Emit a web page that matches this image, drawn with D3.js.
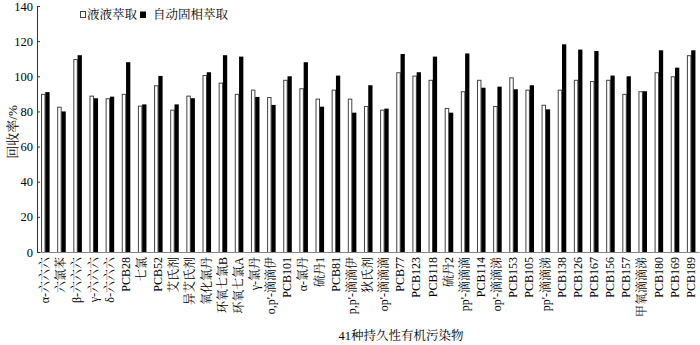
<!DOCTYPE html>
<html>
<head>
<meta charset="utf-8">
<script src="https://cdn.jsdelivr.net/npm/d3@7"></script>
<style>
  body { margin: 0; background: #fff; }
  svg text { font-family: "Liberation Serif", "Times New Roman", "Noto Serif CJK SC", "Noto Sans CJK SC", serif; fill: #000; }
</style>
</head>
<body>
<svg id="chart"></svg>
<script>
// 41 compounds
var categories = ["α-六六六", "六氯苯", "β-六六六", "γ-六六六", "δ-六六六", "PCB28", "七氯", "PCB52",
    "艾氏剂", "异艾氏剂", "氧化氯丹", "环氧七氯B", "环氧七氯A", "γ-氯丹", "o,p'-滴滴伊", "PCB101",
    "α-氯丹", "硫丹1", "PCB81", "p,p'-滴滴伊", "狄氏剂", "op'-滴滴滴", "PCB77", "PCB123", "PCB118",
    "硫丹2", "pp'-滴滴滴", "PCB114", "op'-滴滴涕", "PCB153", "PCB105", "pp'-滴滴涕", "PCB138",
    "PCB126", "PCB167", "PCB156", "PCB157", "甲氧滴滴涕", "PCB180", "PCB169", "PCB189"];

var seriesNames = ["液液萃取", "自动固相萃取"];

// recovery %, liquid-liquid extraction
var lleValues = [90, 82.7, 109.8, 89, 87.5, 90, 83.3, 94.9, 81, 89, 100.7, 96.4, 90, 92.4, 88.2, 98,
    93.2, 87.3, 92.4, 87.3, 83.1, 81, 102.3, 100.4, 98, 82, 91.5, 98, 83.1, 99.4, 92.4, 83.8, 92.4,
    98, 97.3, 98, 90, 91.5, 102.3, 100, 112];

// recovery %, automated SPE
var speValues = [91, 80, 112, 87.5, 88.4, 108, 84, 100.2, 84, 87.5, 102.3, 112, 111.2, 88.2, 83.7, 100,
    108, 82.7, 100.4, 79.3, 94.9, 81.6, 112.7, 102.3, 111.2, 79.3, 113, 93.5, 94.1, 92.6, 94.9, 81.2,
    118.2, 115.2, 114.4, 100.4, 100, 91.5, 114.8, 104.9, 114.8];

var yTicks = [0, 20, 40, 60, 80, 100, 120, 140];

var dimensions = {
    width: 700,
    height: 345,
    left: 37,
    right: 699,
    top: 6,
    bottom: 252
};

var data = categories.map(function(c, i) {
    return { name: c, values: [lleValues[i], speValues[i]] };
});

var svg = d3.select("#chart")
    .attr("width", dimensions.width)
    .attr("height", dimensions.height);

var xScale = d3.scaleBand()
    .domain(categories)
    .range([dimensions.left, dimensions.right]);

var xInner = d3.scaleBand()
    .domain(seriesNames)
    .range([xScale.bandwidth() * 0.25, xScale.bandwidth() * 0.78]);

var yScale = d3.scaleLinear()
    .domain([0, 140])
    .range([dimensions.bottom, dimensions.top]);

// bars
var groups = svg.append("g")
    .selectAll("g")
    .data(data)
    .enter()
    .append("g")
    .attr("transform", d => "translate(" + xScale(d.name) + ",0)");

groups.selectAll("rect")
    .data(d => d.values.map((v, i) => ({ key: seriesNames[i], value: v })))
    .enter()
    .append("rect")
    .attr("x", d => xInner(d.key) + (d.key === seriesNames[0] ? 0.5 : 0))
    .attr("y", d => yScale(d.value) + (d.key === seriesNames[0] ? 0.5 : 0))
    .attr("width", d => d.key === seriesNames[0] ? xInner.bandwidth() - 0.8 : xInner.bandwidth())
    .attr("height", d => dimensions.bottom - yScale(d.value))
    .attr("fill", d => d.key === seriesNames[0] ? "#fff" : "#000")
    .attr("stroke", d => d.key === seriesNames[0] ? "#444" : "none")
    .attr("stroke-width", 1);

// baseline
svg.append("g")
    .attr("transform", "translate(0," + dimensions.bottom + ")")
    .call(d3.axisBottom(xScale).tickSize(0).tickFormat(""))
    .call(g => g.select(".domain").attr("stroke", "#888"));

// x labels, rotated
svg.append("g")
    .selectAll("text")
    .data(categories)
    .enter()
    .append("text")
    .attr("transform", d => "translate(" + (xScale(d) + xScale.bandwidth() / 2 + 4) + "," + (dimensions.bottom + 5) + ") rotate(-90)")
    .attr("text-anchor", "end")
    .style("font-size", "12px")
    .text(d => d);

// y axis
svg.append("g")
    .attr("transform", "translate(" + dimensions.left + ",0)")
    .call(d3.axisLeft(yScale).tickValues(yTicks).tickSizeInner(-3).tickSizeOuter(0).tickPadding(4))
    .call(g => g.selectAll("text").style("font-size", "12.5px").style("font-family", "Liberation Serif, serif"))
    .call(g => g.select(".domain").attr("stroke", "#333"))
    .call(g => g.selectAll(".tick line").attr("stroke", "#333"));

// axis titles
svg.append("text")
    .attr("transform", "translate(17,132) rotate(-90)")
    .attr("text-anchor", "middle")
    .style("font-size", "13px")
    .text("回收率/%");

svg.append("text")
    .attr("x", 401)
    .attr("y", 340)
    .attr("text-anchor", "middle")
    .style("font-size", "12.5px")
    .text("41种持久性有机污染物");

// legend
var legend = svg.append("g")
    .attr("transform", "translate(80,11)");

legend.append("rect")
    .attr("x", 0.5).attr("y", 0.5)
    .attr("width", 5).attr("height", 6)
    .attr("fill", "#fff").attr("stroke", "#444");

legend.append("text")
    .attr("x", 7).attr("y", 8)
    .style("font-size", "12.5px")
    .text(seriesNames[0]);

legend.append("rect")
    .attr("x", 60).attr("y", 0.5)
    .attr("width", 6).attr("height", 6.5)
    .attr("fill", "#000");

legend.append("text")
    .attr("x", 73).attr("y", 8)
    .style("font-size", "12.5px")
    .text(seriesNames[1]);
</script>
</body>
</html>
